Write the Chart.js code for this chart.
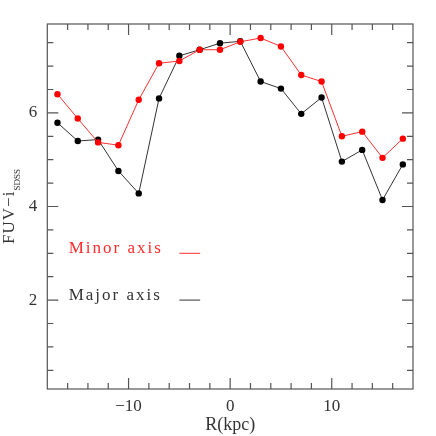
<!DOCTYPE html>
<html>
<head>
<meta charset="utf-8">
<script src="https://cdn.jsdelivr.net/npm/chart.js@4.4.1/dist/chart.umd.min.js"></script>
<style>
  html, body { margin: 0; padding: 0; background: #fff; }
  #wrap { width: 436px; height: 436px; }
</style>
</head>
<body>
<div id="wrap"><canvas id="profile"></canvas></div>
<script>
// radial colour profile along the two axes
const radius = [-17, -15, -13, -11, -9, -7, -5, -3, -1, 1, 3, 5, 7, 9, 11, 13, 15, 17];
const minorAxis = [6.40, 5.88, 5.37, 5.31, 6.28, 7.06, 7.11, 7.35, 7.35, 7.52, 7.60, 7.42, 6.81, 6.67, 5.50, 5.60, 5.04, 5.45];
const majorAxis = [5.79, 5.40, 5.43, 4.76, 4.28, 6.31, 7.22, 7.35, 7.49, 7.53, 6.67, 6.52, 5.98, 6.33, 4.96, 5.21, 4.14, 4.90];

const xMajorTicks = [-10, 0, 10];
const yMajorTicks = [2, 4, 6];

const legendLabels = ['Minor axis', 'Major axis'];
const legendColors = ['#ff2a2a', '#333333'];
const legendY = [3.0, 2.0];

const FONT = "'Liberation Serif', 'DejaVu Serif', serif";
const RED = '#ff0000';
const BLACK = '#000000';

function fmtMinus(v) {
    return v < 0 ? '\u2212' + Math.abs(v) : String(v);
}

// frame with inward ticks on all four sides, legend and y title
const frameTicks = {
    id: 'frameTicks',
    afterDraw(chart) {
        const {ctx, chartArea: a, scales: {x, y}} = chart;
        ctx.save();
        ctx.strokeStyle = '#555';
        ctx.lineWidth = 1.2;
        ctx.strokeRect(a.left, a.top, a.right - a.left, a.bottom - a.top);

        ctx.beginPath();
        for (let v = -16; v <= 16; v += 2) {
            const len = xMajorTicks.includes(v) ? 11 : 6;
            const px = x.getPixelForValue(v);
            ctx.moveTo(px, a.bottom); ctx.lineTo(px, a.bottom - len);
            ctx.moveTo(px, a.top); ctx.lineTo(px, a.top + len);
        }
        for (let v = 0.5; v <= 7.5; v += 0.5) {
            const len = yMajorTicks.includes(v) ? 11 : 6;
            const py = y.getPixelForValue(v);
            ctx.moveTo(a.left, py); ctx.lineTo(a.left + len, py);
            ctx.moveTo(a.right, py); ctx.lineTo(a.right - len, py);
        }
        ctx.stroke();

        // legend: text + short line segment
        ctx.font = '17px ' + FONT;
        ctx.letterSpacing = '2px';
        ctx.textBaseline = 'alphabetic';
        ctx.textAlign = 'left';
        legendLabels.forEach((label, i) => {
            const py = y.getPixelForValue(legendY[i]);
            ctx.fillStyle = legendColors[i];
            ctx.fillText(label, x.getPixelForValue(-15.9), py);
            ctx.strokeStyle = legendColors[i];
            ctx.lineWidth = 1;
            ctx.beginPath();
            ctx.moveTo(x.getPixelForValue(-5), py);
            ctx.lineTo(x.getPixelForValue(-2.95), py);
            ctx.stroke();
        });

        // y title FUV-i with SDSS subscript
        ctx.fillStyle = '#333';
        const mainText = 'FUV\u2212i';
        const subText = 'SDSS';
        ctx.letterSpacing = '1px';
        ctx.font = '17px ' + FONT;
        const w1 = ctx.measureText(mainText).width;
        ctx.letterSpacing = '0px';
        ctx.font = '9px ' + FONT;
        const w2 = ctx.measureText(subText).width;
        const cy = (a.top + a.bottom) / 2;
        ctx.translate(13.5, cy);
        ctx.rotate(-Math.PI / 2);
        const start = -(w1 + w2) / 2;
        ctx.letterSpacing = '1px';
        ctx.font = '17px ' + FONT;
        ctx.fillText(mainText, start, 0);
        ctx.letterSpacing = '0px';
        ctx.font = '9px ' + FONT;
        ctx.fillText(subText, start + w1, 6.5);
        ctx.restore();
    }
};

const ctx = document.getElementById('profile').getContext('2d');
new Chart(ctx, {
    type: 'line',
    data: {
        datasets: [{
            label: 'Minor axis',
            data: radius.map((r, i) => ({x: r, y: minorAxis[i]})),
            borderColor: '#ff3030',
            backgroundColor: RED,
            borderWidth: 1,
            pointRadius: 3.2,
            pointBorderWidth: 0,
            pointBackgroundColor: RED,
            tension: 0
        }, {
            label: 'Major axis',
            data: radius.map((r, i) => ({x: r, y: majorAxis[i]})),
            borderColor: '#333',
            backgroundColor: BLACK,
            borderWidth: 1,
            pointRadius: 3.2,
            pointBorderWidth: 0,
            pointBackgroundColor: BLACK,
            tension: 0
        }]
    },
    options: {
        responsive: true,
        maintainAspectRatio: false,
        animation: false,
        layout: {
            padding: {top: 24, right: 23, left: 0, bottom: 0}
        },
        plugins: {
            legend: {display: false},
            tooltip: {enabled: false}
        },
        scales: {
            x: {
                type: 'linear',
                min: -18,
                max: 18,
                afterBuildTicks: s => { s.ticks = xMajorTicks.map(v => ({value: v})); },
                afterFit: s => { s.height = 47; },
                grid: {display: false, drawTicks: false},
                border: {display: false},
                ticks: {
                    color: '#333',
                    padding: 7,
                    maxRotation: 0,
                    font: {family: FONT, size: 17},
                    callback: v => fmtMinus(v)
                },
                title: {
                    display: true,
                    text: 'R(kpc)',
                    color: '#333',
                    padding: {top: 0, bottom: 0},
                    font: {family: FONT, size: 18}
                }
            },
            y: {
                min: 0.1,
                max: 7.9,
                afterBuildTicks: s => { s.ticks = yMajorTicks.map(v => ({value: v})); },
                afterFit: s => { s.width = 47.3; },
                grid: {display: false, drawTicks: false},
                border: {display: false},
                ticks: {
                    color: '#333',
                    padding: 10,
                    font: {family: FONT, size: 17},
                    callback: v => fmtMinus(v)
                }
            }
        }
    },
    plugins: [frameTicks]
});
</script>
</body>
</html>
